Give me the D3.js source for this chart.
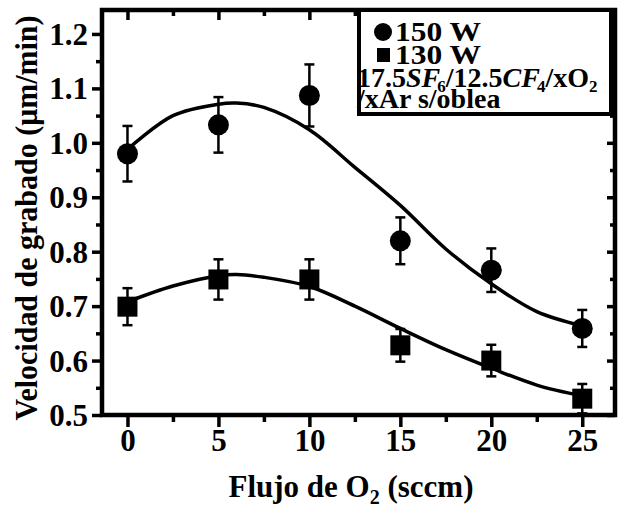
<!DOCTYPE html>
<html>
<head>
<meta charset="utf-8">
<script src="https://cdn.jsdelivr.net/npm/d3@7"></script>
<style>
  body { margin: 0; background: #fff; }
  svg text { font-family: "Liberation Serif", "Times New Roman", serif; font-weight: bold; fill: #000; }
</style>
</head>
<body>
<div id="graphics"></div>
<script>
// O2 flow (sccm)
var flujo = [0, 5, 10, 15, 20, 25];
// 150 W
var v150 = [0.980, 1.033, 1.087, 0.820, 0.766, 0.659];
var e150 = [0.051, 0.051, 0.057, 0.043, 0.040, 0.034];
// 130 W
var v130 = [0.699, 0.749, 0.749, 0.628, 0.600, 0.530];
var e130 = [0.034, 0.037, 0.037, 0.030, 0.029, 0.027];
// fitted curves
var fitX = [0, 2.5, 5, 6, 7.5, 10, 12.5, 15, 17.5, 20, 22.5, 25];
var fit150 = [0.988, 1.050, 1.071, 1.073, 1.065, 1.024, 0.955, 0.885, 0.805, 0.741, 0.690, 0.664];
var fit130 = [0.708, 0.737, 0.756, 0.758, 0.753, 0.736, 0.700, 0.659, 0.620, 0.586, 0.555, 0.535];
// ticks
var xTicks = [0, 5, 10, 15, 20, 25];
var xMinor = [2.5, 7.5, 12.5, 17.5, 22.5];
var yTicks = [0.5, 0.6, 0.7, 0.8, 0.9, 1.0, 1.1, 1.2];
var yMinor = [0.55, 0.65, 0.75, 0.85, 0.95, 1.05, 1.15];

var w = 618, h = 509;
var pLeft = 102, pRight = 615, pTop = 10, pBottom = 415;

var svg = d3.select("#graphics")
  .append("svg")
  .attr("width", w)
  .attr("height", h);

var x = d3.scaleLinear().domain([-1.4, 26.8]).range([pLeft, pRight]);
var y = d3.scaleLinear().domain([0.5, 1.244]).range([pBottom, pTop]);

function styleAxis(g) {
  g.select(".domain").remove();
  g.selectAll(".tick line").attr("stroke", "#000").attr("stroke-width", 3.5);
}

// bottom axis (ticks out)
svg.append("g")
  .attr("transform", "translate(0," + pBottom + ")")
  .call(d3.axisBottom(x).tickValues(xTicks).tickSize(12).tickFormat(d3.format("d")))
  .call(styleAxis)
  .selectAll("text")
  .attr("font-size", "31px")
  .attr("y", 36)
  .attr("dy", 0);
svg.append("g")
  .attr("transform", "translate(0," + pBottom + ")")
  .call(d3.axisBottom(x).tickValues(xMinor).tickSize(7).tickFormat(""))
  .call(styleAxis);

// top axis (ticks in)
svg.append("g")
  .attr("transform", "translate(0," + pTop + ")")
  .call(d3.axisBottom(x).tickValues(xTicks).tickSize(10).tickFormat(""))
  .call(styleAxis);
svg.append("g")
  .attr("transform", "translate(0," + pTop + ")")
  .call(d3.axisBottom(x).tickValues(xMinor).tickSize(6).tickFormat(""))
  .call(styleAxis);

// left axis (ticks out)
svg.append("g")
  .attr("transform", "translate(" + pLeft + ",0)")
  .call(d3.axisLeft(y).tickValues(yTicks).tickSize(10).tickPadding(4).tickFormat(d3.format(".1f")))
  .call(styleAxis)
  .selectAll("text")
  .attr("font-size", "31px")
  .attr("dy", "0.34em");
svg.append("g")
  .attr("transform", "translate(" + pLeft + ",0)")
  .call(d3.axisLeft(y).tickValues(yMinor).tickSize(6).tickFormat(""))
  .call(styleAxis);

// right axis (ticks in)
svg.append("g")
  .attr("transform", "translate(" + pRight + ",0)")
  .call(d3.axisLeft(y).tickValues(yTicks).tickSize(8).tickFormat(""))
  .call(styleAxis);
svg.append("g")
  .attr("transform", "translate(" + pRight + ",0)")
  .call(d3.axisLeft(y).tickValues(yMinor).tickSize(5).tickFormat(""))
  .call(styleAxis);

// frame
svg.append("rect")
  .attr("x", pLeft)
  .attr("y", pTop)
  .attr("width", pRight - pLeft)
  .attr("height", pBottom - pTop)
  .attr("fill", "none")
  .attr("stroke", "#000")
  .attr("stroke-width", 4.5);

// fit curves
var line = d3.line()
  .x(function(d) { return x(d[0]); })
  .y(function(d) { return y(d[1]); })
  .curve(d3.curveCatmullRom.alpha(0.5));

[fit150, fit130].forEach(function(fit) {
  svg.append("path")
    .datum(fitX.map(function(d, i) { return [d, fit[i]]; }))
    .attr("d", line)
    .attr("fill", "none")
    .attr("stroke", "#000")
    .attr("stroke-width", 3.5);
});

// error bars
function errorBars(vals, errs) {
  var data = flujo.map(function(d, i) { return { x: d, v: vals[i], e: errs[i] }; });
  var g = svg.append("g").attr("stroke", "#000").attr("stroke-width", 2.5);
  g.selectAll(".v").data(data).enter().append("line")
    .attr("x1", function(d) { return x(d.x); })
    .attr("x2", function(d) { return x(d.x); })
    .attr("y1", function(d) { return y(d.v - d.e); })
    .attr("y2", function(d) { return y(d.v + d.e); });
  [-1, 1].forEach(function(s) {
    g.selectAll(".c").data(data).enter().append("line")
      .attr("x1", function(d) { return x(d.x) - 5; })
      .attr("x2", function(d) { return x(d.x) + 5; })
      .attr("y1", function(d) { return y(d.v + s * d.e); })
      .attr("y2", function(d) { return y(d.v + s * d.e); });
  });
}
errorBars(v150, e150);
errorBars(v130, e130);

// markers
svg.selectAll(".p150")
  .data(flujo)
  .enter()
  .append("circle")
  .attr("cx", function(d) { return x(d); })
  .attr("cy", function(d, i) { return y(v150[i]); })
  .attr("r", 10.5)
  .attr("fill", "#000");

svg.selectAll(".p130")
  .data(flujo)
  .enter()
  .append("rect")
  .attr("x", function(d) { return x(d) - 10; })
  .attr("y", function(d, i) { return y(v130[i]) - 10; })
  .attr("width", 20)
  .attr("height", 20)
  .attr("fill", "#000");

// axis titles
var xt = svg.append("text")
  .attr("x", 351)
  .attr("y", 497)
  .attr("text-anchor", "middle")
  .attr("font-size", "31px");
xt.append("tspan").text("Flujo de O");
xt.append("tspan").attr("font-size", "20px").attr("dy", 7).text("2");
xt.append("tspan").attr("dy", -7).text(" (sccm)");

svg.append("text")
  .attr("transform", "translate(37,218) rotate(-90)")
  .attr("text-anchor", "middle")
  .attr("font-size", "31px")
  .attr("textLength", 405)
  .attr("lengthAdjust", "spacingAndGlyphs")
  .text("Velocidad de grabado (\u03bcm/min)");

// legend
var lg = svg.append("g");
lg.append("rect")
  .attr("x", 359)
  .attr("y", pTop)
  .attr("width", 252)
  .attr("height", 104)
  .attr("fill", "#fff")
  .attr("stroke", "#000")
  .attr("stroke-width", 4);
lg.append("circle").attr("cx", 383).attr("cy", 32).attr("r", 9).attr("fill", "#000");
lg.append("rect").attr("x", 377).attr("y", 48).attr("width", 13).attr("height", 14).attr("fill", "#000");
lg.append("text").attr("x", 395).attr("y", 41).attr("font-size", "28px")
  .attr("textLength", 86).attr("lengthAdjust", "spacingAndGlyphs").text("150 W");
lg.append("text").attr("x", 395).attr("y", 64).attr("font-size", "28px")
  .attr("textLength", 86).attr("lengthAdjust", "spacingAndGlyphs").text("130 W");
var l3 = lg.append("text").attr("x", 357).attr("y", 87).attr("font-size", "28px");
l3.append("tspan").text("17.5");
l3.append("tspan").attr("font-style", "italic").text("SF");
l3.append("tspan").attr("font-size", "17px").attr("dy", 5).attr("dx", -3).text("6");
l3.append("tspan").attr("dy", -5).text("/12.5");
l3.append("tspan").attr("font-style", "italic").text("CF");
l3.append("tspan").attr("font-size", "17px").attr("dy", 5).attr("dx", -3).text("4");
l3.append("tspan").attr("dy", -5).text("/xO");
l3.append("tspan").attr("font-size", "17px").attr("dy", 5).text("2");
lg.append("text").attr("x", 357).attr("y", 108).attr("font-size", "28px").text("/xAr s/oblea");
</script>
</body>
</html>
